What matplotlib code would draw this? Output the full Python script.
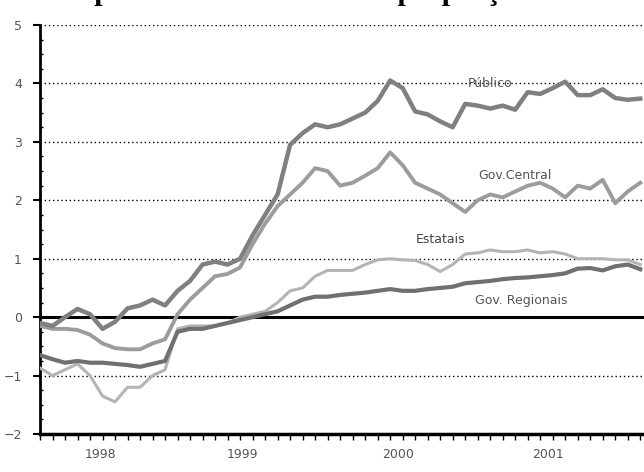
import matplotlib
matplotlib.use("Agg")
import matplotlib.pyplot as plt
import numpy as np
from matplotlib.ticker import MultipleLocator

# monthly observations (index 0 = first month shown)
total = [-0.10, -0.15, 0.00, 0.14, 0.05, -0.20, -0.08, 0.15, 0.20, 0.30,
         0.20, 0.45, 0.62, 0.90, 0.95, 0.90, 1.00, 1.40, 1.75, 2.10,
         2.95, 3.15, 3.30, 3.25, 3.30, 3.40, 3.50, 3.70, 4.05, 3.92,
         3.52, 3.47, 3.35, 3.25, 3.65, 3.62, 3.57, 3.62, 3.55, 3.85,
         3.82, 3.92, 4.03, 3.80, 3.80, 3.90, 3.75, 3.72, 3.74]
gov_central = [-0.15, -0.20, -0.20, -0.22, -0.30, -0.45, -0.53, -0.55, -0.55, -0.45,
               -0.38, 0.05, 0.30, 0.50, 0.70, 0.74, 0.85, 1.25, 1.60, 1.90,
               2.10, 2.30, 2.55, 2.50, 2.25, 2.30, 2.42, 2.55, 2.82, 2.60,
               2.30, 2.20, 2.10, 1.95, 1.80, 2.00, 2.10, 2.05, 2.15, 2.25,
               2.30, 2.20, 2.05, 2.25, 2.20, 2.35, 1.95, 2.15, 2.30]
estatais = [-0.87, -1.00, -0.90, -0.80, -1.00, -1.35, -1.45, -1.20, -1.20, -1.00,
            -0.90, -0.20, -0.15, -0.15, -0.15, -0.10, 0.00, 0.05, 0.10, 0.25,
            0.45, 0.50, 0.70, 0.80, 0.80, 0.80, 0.90, 0.98, 1.00, 0.98,
            0.97, 0.90, 0.78, 0.90, 1.08, 1.10, 1.15, 1.12, 1.12, 1.15,
            1.10, 1.12, 1.08, 1.00, 1.00, 1.00, 0.98, 0.98, 0.90]
gov_regionais = [-0.65, -0.72, -0.78, -0.75, -0.78, -0.78, -0.80, -0.82, -0.85, -0.80,
                 -0.75, -0.25, -0.20, -0.20, -0.15, -0.10, -0.05, 0.00, 0.05, 0.10,
                 0.20, 0.30, 0.35, 0.35, 0.38, 0.40, 0.42, 0.45, 0.48, 0.45,
                 0.45, 0.48, 0.50, 0.52, 0.58, 0.60, 0.62, 0.65, 0.67, 0.68,
                 0.70, 0.72, 0.75, 0.83, 0.84, 0.80, 0.87, 0.90, 0.82]

year_labels = ["1998", "1999", "2000", "2001"]
year_pos = [4.8, 16.2, 28.6, 40.6]

months = np.arange(len(total))

fig = plt.figure(figsize=(6.44, 4.72), dpi=100)
ax = fig.add_axes([40 / 644, 38 / 472, 604 / 644, 409 / 472])

ax.plot(months, estatais, color="#b4b4b4", linewidth=2.2, zorder=3)
ax.plot(months, gov_regionais, color="#707070", linewidth=3.0, zorder=4)
ax.plot(months, gov_central, color="#9c9c9c", linewidth=2.8, zorder=3)
ax.plot(months, total, color="#808080", linewidth=3.2, zorder=4)

ax.axhline(0, color="black", linewidth=2.2, zorder=2)
for level in [-1, 1, 2, 3, 4, 5]:
    ax.axhline(level, color="black", linewidth=1.0, linestyle=(0, (1, 2)), zorder=1)

ax.set_xlim(0, 48.3)
ax.set_ylim(-2, 5)

ax.text(36, 4.0, "Público", fontsize=9, color="#555555", ha="center", va="center")
ax.text(38, 2.42, "Gov.Central", fontsize=9, color="#555555", ha="center", va="center")
ax.text(32, 1.33, "Estatais", fontsize=9, color="#444444", ha="center", va="center")
ax.text(38.5, 0.28, "Gov. Regionais", fontsize=9, color="#555555", ha="center", va="center")

ax.set_yticks(range(-2, 6))
ax.yaxis.set_minor_locator(MultipleLocator(0.25))
ax.set_xticks(year_pos)
ax.set_xticklabels(year_labels)
ax.xaxis.set_minor_locator(MultipleLocator(1))
ax.tick_params(axis="y", which="major", direction="out", length=5, width=1.5,
               labelsize=9, labelcolor="#555555", pad=8)
ax.tick_params(axis="y", which="minor", direction="in", length=2, width=1)
ax.tick_params(axis="x", which="major", direction="out", length=0,
               labelsize=9, labelcolor="#555555", pad=10)
ax.tick_params(axis="x", which="minor", direction="out", length=4, width=1)

for side in ["top", "right"]:
    ax.spines[side].set_visible(False)
ax.spines["left"].set_linewidth(2)
ax.spines["bottom"].set_linewidth(2.5)

# title sits above the visible area; only its descenders show, as in the source
fig.text(0.094, 1.0, "Superávit consolidado em proporção do PIB", fontsize=21.5,
         fontweight="bold", family="Liberation Serif", ha="left", va="baseline")

fig.savefig("out.png", dpi=100)
